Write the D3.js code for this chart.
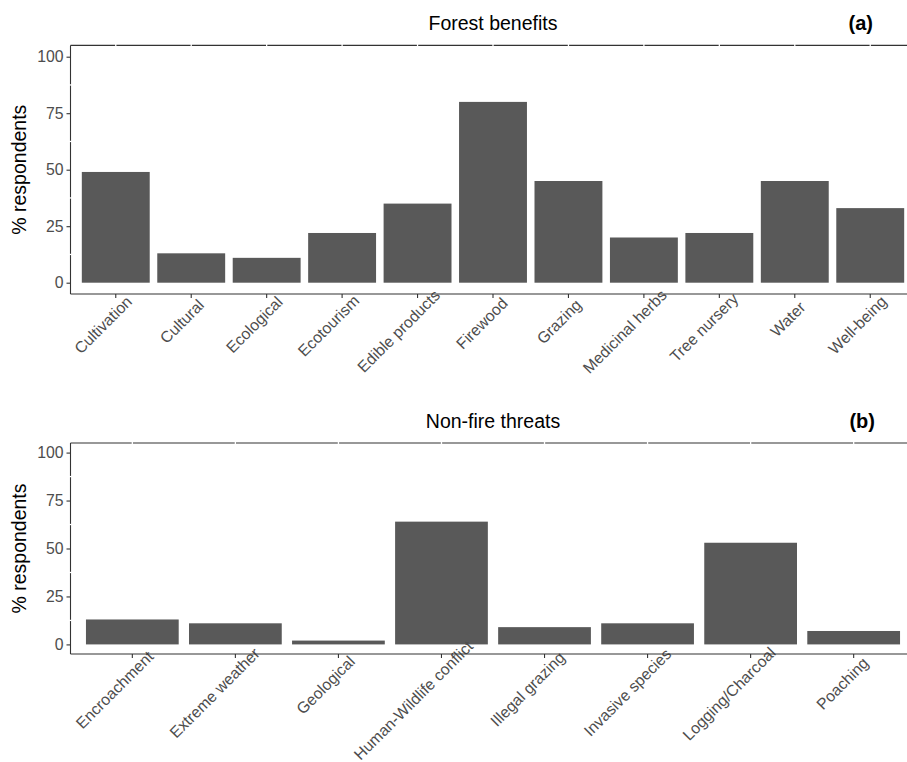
<!DOCTYPE html>
<html>
<head>
<meta charset="utf-8">
<script src="https://cdn.jsdelivr.net/npm/d3@7"></script>
<style>
  html, body { margin: 0; padding: 0; background: #fff; }
  svg { display: block; font-family: "Liberation Sans", Arial, Helvetica, sans-serif; }
</style>
</head>
<body>
<svg id="chart" width="907" height="762"></svg>
<script>
// Panel (a): forest benefits reported by respondents
const benefitCategories = ["Cultivation", "Cultural", "Ecological", "Ecotourism", "Edible products",
  "Firewood", "Grazing", "Medicinal herbs", "Tree nursery", "Water", "Well-being"];
const benefitValues = [49, 13, 11, 22, 35, 80, 45, 20, 22, 45, 33];

// Panel (b): non-fire threats reported by respondents
const threatCategories = ["Encroachment", "Extreme weather", "Geological", "Human-Wildlife conflict",
  "Illegal grazing", "Invasive species", "Logging/Charcoal", "Poaching"];
const threatValues = [13, 11, 2, 64, 9, 11, 53, 7];

const yTickValues = [0, 25, 50, 75, 100];
const yMinorValues = [12.5, 37.5, 62.5, 87.5];

const svg = d3.select("#chart");

const AXIS_COLOR = "#333333";
const TEXT_GREY = "#4d4d4d";
const BAR_FILL = "#595959";
const TICK_FONT = "15.8px";
const LABEL_HJUST = 0.75;   // fraction of the label length that sits before the anchor

function drawPanel(opts) {
  const { categories, values, title, tag, left, right, top, bottom } = opts;
  const g = svg.append("g");

  const x = d3.scaleBand()
    .domain(categories)
    .range([left, right])
    .paddingInner(0.1)
    .paddingOuter(0.15);

  const y = d3.scaleLinear()
    .domain([-5, 105])
    .range([bottom, top]);

  // bars
  g.selectAll("rect.bar")
    .data(categories.map((c, i) => ({ c, v: values[i] })))
    .join("rect")
    .attr("class", "bar")
    .attr("x", d => x(d.c))
    .attr("width", x.bandwidth())
    .attr("y", d => y(d.v))
    .attr("height", d => y(0) - y(d.v))
    .attr("fill", BAR_FILL);

  // top border of the panel
  g.append("line")
    .attr("x1", left).attr("x2", right)
    .attr("y1", top).attr("y2", top)
    .attr("stroke", AXIS_COLOR).attr("stroke-width", 1.1);

  // left axis
  const yAxis = d3.axisLeft(y)
    .tickValues(yTickValues)
    .tickSize(4)
    .tickPadding(3);
  const ya = g.append("g")
    .attr("transform", `translate(${left},0)`)
    .call(yAxis);
  ya.select(".domain").remove();
  ya.append("line")
    .attr("x1", 0).attr("x2", 0)
    .attr("y1", top).attr("y2", bottom)
    .attr("stroke", AXIS_COLOR).attr("stroke-width", 1.1);
  ya.selectAll(".tick line").attr("stroke", AXIS_COLOR).attr("stroke-width", 1.1);
  ya.selectAll(".tick text")
    .attr("fill", TEXT_GREY)
    .style("font-size", TICK_FONT);

  // white grid breaks over the frame
  g.selectAll("line.gx")
    .data(categories)
    .join("line")
    .attr("class", "gx")
    .attr("x1", d => x(d) + x.bandwidth() / 2)
    .attr("x2", d => x(d) + x.bandwidth() / 2)
    .attr("y1", top - 1.5).attr("y2", top + 1.5)
    .attr("stroke", "#fff").attr("stroke-width", 1.3);
  g.selectAll("line.gy")
    .data(yMinorValues)
    .join("line")
    .attr("class", "gy")
    .attr("x1", left - 1.5).attr("x2", left + 1.5)
    .attr("y1", d => y(d)).attr("y2", d => y(d))
    .attr("stroke", "#fff").attr("stroke-width", 1.3);

  // bottom axis
  const xAxis = d3.axisBottom(x).tickSize(4).tickSizeOuter(0);
  const xa = g.append("g")
    .attr("transform", `translate(0,${bottom})`)
    .call(xAxis);
  xa.select(".domain").remove();
  xa.append("line")
    .attr("x1", left).attr("x2", right)
    .attr("y1", 0).attr("y2", 0)
    .attr("stroke", AXIS_COLOR).attr("stroke-width", 1.1);
  xa.selectAll(".tick line").attr("stroke", AXIS_COLOR).attr("stroke-width", 1.1);
  xa.selectAll(".tick text")
    .attr("fill", TEXT_GREY)
    .style("font-size", TICK_FONT)
    .attr("text-anchor", "start")
    .attr("y", 0).attr("dy", 0)
    .attr("transform", "translate(17,9) rotate(-45)")
    .each(function () {
      const len = this.getComputedTextLength();
      // labels are partly centred: longer names reach further past their tick
      d3.select(this).attr("x", -len + (1 - LABEL_HJUST) * (len - 72));
    });

  // y axis title
  g.append("text")
    .attr("transform", `translate(25.5,${(top + bottom) / 2}) rotate(-90)`)
    .attr("text-anchor", "middle")
    .attr("fill", "#000")
    .style("font-size", "19.5px")
    .text("% respondents");

  // panel title and tag
  g.append("text")
    .attr("x", (left + right) / 2)
    .attr("y", top - 15)
    .attr("text-anchor", "middle")
    .attr("fill", "#000")
    .style("font-size", "19.5px")
    .text(title);
  g.append("text")
    .attr("x", opts.tagX)
    .attr("y", top - 15)
    .attr("text-anchor", "end")
    .attr("fill", "#000")
    .style("font-size", "20px")
    .style("font-weight", "bold")
    .text(tag);
}

drawPanel({
  categories: benefitCategories,
  values: benefitValues,
  title: "Forest benefits",
  tag: "(a)",
  tagX: 873,
  left: 70.5, right: 915.5,
  top: 45.4, bottom: 294
});

drawPanel({
  categories: threatCategories,
  values: threatValues,
  title: "Non-fire threats",
  tag: "(b)",
  tagX: 875,
  left: 70.5, right: 915.5,
  top: 443, bottom: 654
});
</script>
</body>
</html>
